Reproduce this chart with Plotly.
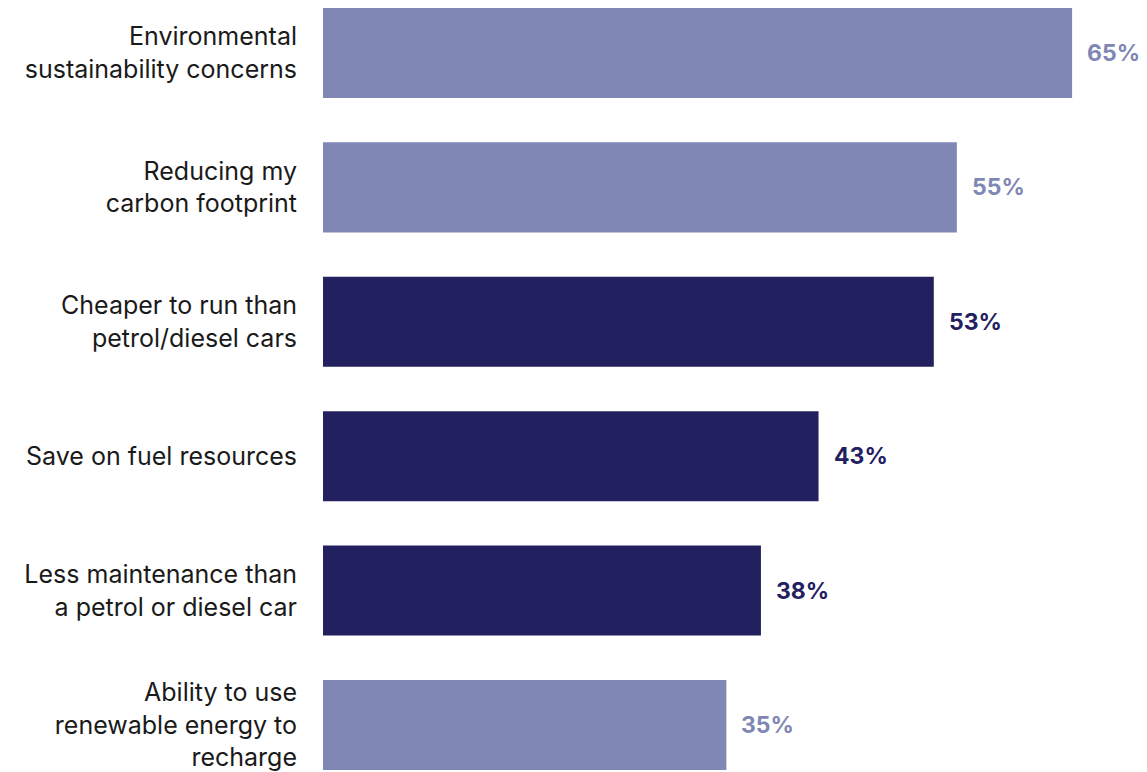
import plotly.graph_objects as go

# Survey responses: reasons for choosing an electric vehicle
categories = [
    "Environmental<br>sustainability concerns",
    "Reducing my<br>carbon footprint",
    "Cheaper to run than<br>petrol/diesel cars",
    "Save on fuel resources",
    "Less maintenance than<br>a petrol or diesel car",
    "Ability to use<br>renewable energy to<br>recharge",
]
values = [65, 55, 53, 43, 38, 35]
highlighted = [False, False, True, True, True, False]

LIGHT = "#7F87B5"
DARK = "#22205F"
bar_colors = [DARK if h else LIGHT for h in highlighted]

fig = go.Figure(
    go.Bar(
        x=values,
        y=categories,
        orientation="h",
        marker=dict(color=bar_colors, line=dict(width=0)),
        width=0.67,
        hoverinfo="skip",
    )
)

for cat, val, col in zip(categories, values, bar_colors):
    fig.add_annotation(
        x=val, y=cat, text=f"<b>{val}%</b>", showarrow=False,
        xanchor="left", yanchor="middle", xshift=13,
        font=dict(family="Inter, Roboto, sans-serif", size=23, color=col),
    )

fig.update_layout(
    width=1147, height=772,
    margin=dict(l=323, r=0, t=0, b=0),
    paper_bgcolor="white", plot_bgcolor="white",
    showlegend=False,
    font=dict(family="Inter, Roboto, sans-serif", size=25, color="#1a1a1a"),
    xaxis=dict(range=[0, 71.5], visible=False, fixedrange=True),
    yaxis=dict(
        range=[5.35, -0.394],
        showgrid=False, zeroline=False, showline=False,
        ticks="", ticklabelstandoff=25,
        tickfont=dict(size=25, color="#1a1a1a"),
        fixedrange=True,
    ),
)

fig.write_html("out.html")
